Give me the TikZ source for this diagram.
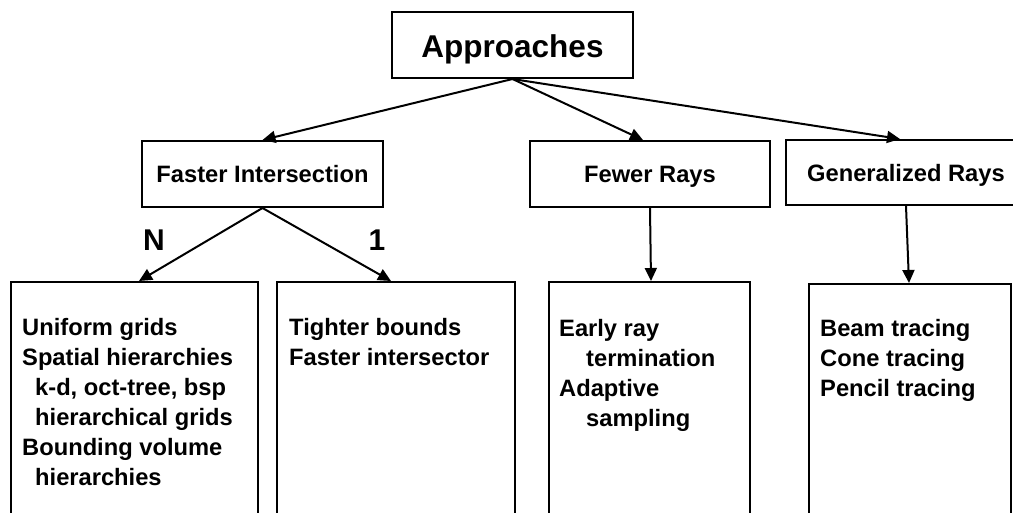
\documentclass[tikz,border=0pt]{standalone}
\usepackage{fontspec}
\setmainfont{Liberation Sans}
\usetikzlibrary{arrows.meta}
\begin{document}
\begin{tikzpicture}[x=1pt,y=-1pt,
  box/.style={draw,line width=2pt,minimum width=#1,inner sep=0pt},
  head/.style={box=241pt,minimum height=66pt,text height=22pt,text depth=5pt,font=\bfseries\fontsize{23.7}{28}\selectfont},
  listbox/.style={draw,line width=2pt,inner sep=0pt,anchor=north west},
  listtext/.style={anchor=north west,inner sep=0pt,align=left,font=\bfseries\fontsize{23.7}{30}\selectfont},
  lab/.style={font=\bfseries\fontsize{30}{36}\selectfont,inner sep=0pt},
  arr/.style={line width=2pt,-{Triangle[length=13pt,width=12pt]}}]
\useasboundingbox (0,0) rectangle (1013,512);
\clip (0,0) rectangle (1013,512);
% top
\node[box=241pt,minimum height=66pt,text height=30pt,text depth=6pt,font=\bfseries\fontsize{31.5}{36}\selectfont] (app) at (512.5,45) {Approaches};
% level 2
\node[head] (fi) at (262.5,174) {Faster Intersection};
\node[head,minimum width=240pt] (fr) at (650,174) {Fewer Rays};
\node[head,minimum width=240pt,minimum height=65pt] (gr) at (906,172.5) {Generalized Rays};
% level 3 boxes
\node[listbox,minimum width=247pt,minimum height=260pt] (b1) at (10,281) {};
\node[listbox,minimum width=238pt,minimum height=260pt] (b2) at (276,281) {};
\node[listbox,minimum width=201pt,minimum height=260pt] (b3) at (548,281) {};
\node[listbox,minimum width=202pt,minimum height=260pt] (b4) at (808,283) {};
% texts
\node[listtext] (t1) at (22,318.5) {Uniform grids\\Spatial hierarchies\\\hspace*{13pt}k-d, oct-tree, bsp\\\hspace*{13pt}hierarchical grids\\Bounding volume\\\hspace*{13pt}hierarchies};
\node[listtext] (t2) at (289,318.5) {Tighter bounds\\Faster intersector};
\node[listtext] (t3) at (559,319.5) {Early ray\\\hspace*{27pt}termination\\Adaptive\\\hspace*{27pt}sampling};
\node[listtext] (t4) at (820,319.5) {Beam tracing\\Cone tracing\\Pencil tracing};
% labels
\node[lab] (n) at (154,240) {N};
\node[lab] (one) at (377,240) {1};
% arrows
\draw[arr] (app.south) -- (fi.north);
\draw[arr] (app.south) -- ([xshift=-7pt]fr.north);
\draw[arr] (app.south) -- ([xshift=-6pt]gr.north);
\draw[arr] (fi.south) -- ([xshift=4.5pt]b1.north);
\draw[arr] (fi.south) -- ([xshift=-5pt]b2.north);
\draw[arr] (fr.south) -- ([xshift=1.5pt]b3.north);
\draw[arr] (gr.south) -- ([xshift=-1pt]b4.north);
\end{tikzpicture}
\end{document}
